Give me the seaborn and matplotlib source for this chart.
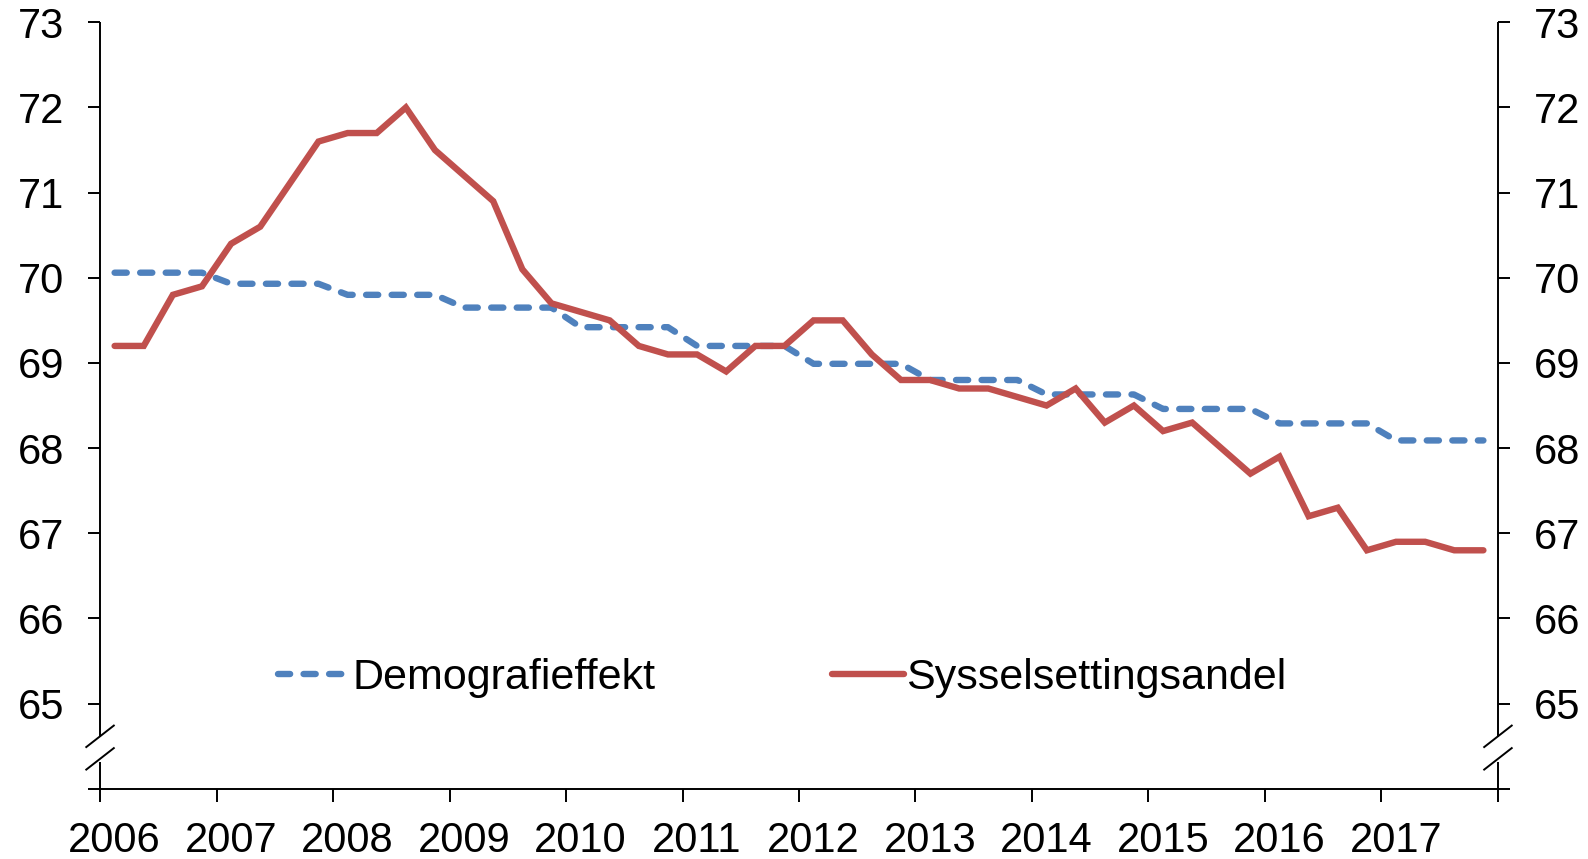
import matplotlib
matplotlib.use("Agg")
import matplotlib.pyplot as plt
import seaborn as sns
import numpy as np
import pandas as pd
from matplotlib.lines import Line2D

# ---- data ----
years = list(range(2006, 2018))
quarters = [y + (q + 0.5) / 4 for y in years for q in range(4)]

sysselsetting = [69.2, 69.2, 69.8, 69.9,
                 70.4, 70.6, 71.1, 71.6,
                 71.7, 71.7, 72.0, 71.5,
                 71.2, 70.9, 70.1, 69.7,
                 69.6, 69.5, 69.2, 69.1,
                 69.1, 68.9, 69.2, 69.2,
                 69.5, 69.5, 69.1, 68.8,
                 68.8, 68.7, 68.7, 68.6,
                 68.5, 68.7, 68.3, 68.5,
                 68.2, 68.3, 68.0, 67.7,
                 67.9, 67.2, 67.3, 66.8,
                 66.9, 66.9, 66.8, 66.8]

demografi_annual = [70.06, 69.93, 69.80, 69.65, 69.42, 69.20,
                    68.99, 68.80, 68.63, 68.46, 68.29, 68.09]
demografi = [v for v in demografi_annual for _ in range(4)]

y_ticks = list(range(64, 74))
y_labels = [""] + [str(v) for v in range(65, 74)]
x_labels = [str(y) for y in years]

df = pd.DataFrame({"x": quarters, "Demografieffekt": demografi,
                   "Sysselsettingsandel": sysselsetting})

red = "#C0504D"
blue = "#4F81BD"

sns.set_style("white")
plt.rcParams["font.family"] = ["Liberation Sans", "DejaVu Sans"]
plt.rcParams["text.color"] = "black"
plt.rcParams["xtick.color"] = "black"
plt.rcParams["ytick.color"] = "black"

fig = plt.figure(figsize=(15.88, 8.59), dpi=100)
ax = fig.add_axes([0.063, 0.0818, 0.8803, 0.8922])

lw = 4.6
sns.lineplot(data=df, x="x", y="Demografieffekt", ax=ax, color=blue,
             linewidth=lw, label="Demografieffekt")
sns.lineplot(data=df, x="x", y="Sysselsettingsandel", ax=ax, color=red,
             linewidth=lw, label="Sysselsettingsandel")
l_blue, l_red = ax.get_lines()[:2]
l_blue.set_linestyle((0, (1.9, 2.1)))
l_blue.set_dash_capstyle("round")
l_red.set_solid_joinstyle("miter")

ax.set_xlim(2006, 2018)
ax.set_ylim(64, 73)
ax.set_xlabel("")
ax.set_ylabel("")

# y axis
ax.set_yticks(y_ticks)
ax.set_yticklabels(y_labels)
ax.yaxis.set_ticks_position("both")
ax.tick_params(axis="y", which="major", direction="out", length=8.6, width=1.4,
               labelsize=30, pad=17, labelleft=True, labelright=True,
               colors="black")

# x axis: ticks at year boundaries, labels in first quarter
ax.set_xticks(list(range(2006, 2019)))
ax.set_xticklabels([])
ax.set_xticks([y + 0.125 for y in years], minor=True)
ax.set_xticklabels(x_labels, minor=True)
ax.tick_params(axis="x", which="major", direction="out", length=9.4, width=1.4,
               bottom=True, colors="black")
ax.tick_params(axis="x", which="minor", length=0, labelsize=30, pad=23,
               colors="black")

ax.spines["top"].set_visible(False)
ax.spines["bottom"].set_linewidth(1.4)
ax.spines["bottom"].set_color("black")
ax.spines["left"].set_visible(False)
ax.spines["right"].set_visible(False)

# broken y spines with break marks
kw = dict(transform=ax.transAxes, color="black", linewidth=1.4,
          clip_on=False, solid_capstyle="butt")
for xs in (0.0, 1.0):
    ax.add_line(Line2D([xs, xs], [1.0, 0.0675], **kw))
    ax.add_line(Line2D([xs, xs], [0.0348, 0.0], **kw))
    for yc in (0.0684, 0.039):
        ax.add_line(Line2D([xs - 0.0104, xs + 0.0104],
                           [yc - 0.0148, yc + 0.0148], **kw))

leg = ax.legend(loc="center", bbox_to_anchor=(0.488, 0.145), ncol=2,
                frameon=False, fontsize=31, handlelength=1.67,
                handletextpad=0.05, columnspacing=4.1, borderpad=0,
                borderaxespad=0)
for t in leg.get_texts():
    t.set_color("black")

fig.savefig("out.png", dpi=100)
